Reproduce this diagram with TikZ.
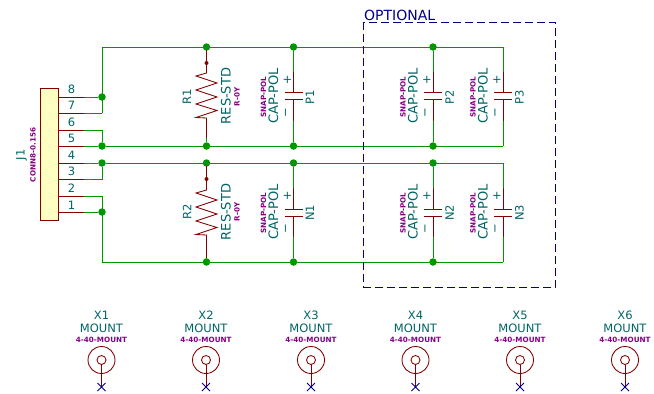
\documentclass[tikz,border=0pt]{standalone}
\usepackage{xcolor}
\usepackage{fontspec}
\setmainfont{DejaVu Sans}
\definecolor{wiregreen}{HTML}{009600}
\definecolor{partred}{HTML}{840000}
\definecolor{nametext}{HTML}{006464}
\definecolor{typetext}{HTML}{840084}
\definecolor{noteblue}{HTML}{000084}
\definecolor{bodyfill}{HTML}{FFFFC2}
\tikzset{
  wire/.style={draw=wiregreen,line width=0.85pt},
  part/.style={draw=partred,line width=0.85pt},
  junction/.style={circle,fill=wiregreen,inner sep=0pt,minimum size=7.5pt},
  pindot/.style={circle,fill=partred,inner sep=0pt,minimum size=4pt},
  ref/.style={text=nametext,inner sep=0pt,font=\fontsize{11.5}{12}\selectfont},
  val/.style={text=nametext,inner sep=0pt,rotate=90,font=\fontsize{13}{14}\selectfont},
  tiny/.style={text=typetext,inner sep=0pt,font=\fontsize{7.2}{8}\selectfont\bfseries},
  hole/.style={draw=partred,circle,line width=0.85pt,inner sep=0pt},
  cross/.style={draw=noteblue,line width=0.85pt},
}
\begin{document}
\begin{tikzpicture}[x=1pt,y=-1pt]
      \useasboundingbox (0,0) rectangle (654,394);
      % connector
      \node[draw=partred,line width=1pt,fill=bodyfill,minimum width=17.5pt,minimum height=132pt,inner sep=0pt] (J) at (49.5,154.5) {};
      \node[ref,rotate=90] (J1) at (21.5,155) {J1};
      \node[tiny,rotate=90] (Jval) at (33,155) {CONN8-0.156};
      \node[ref] (n8) at (71.5,89) {8};
      \node[ref] (n7) at (71.5,105.5) {7};
      \node[ref] (n6) at (71.5,122) {6};
      \node[ref] (n5) at (71.5,138.5) {5};
      \node[ref] (n4) at (71.5,155) {4};
      \node[ref] (n3) at (71.5,171.5) {3};
      \node[ref] (n2) at (71.5,188) {2};
      \node[ref] (n1) at (71.5,205) {1};
      \coordinate (p8) at (58,97);
      \coordinate (p7) at (58,113);
      \coordinate (p6) at (58,130);
      \coordinate (p5) at (58,146);
      \coordinate (p4) at (58,163);
      \coordinate (p3) at (58,179);
      \coordinate (p2) at (58,196);
      \coordinate (p1) at (58,212);
      \coordinate (e8) at (84,97);
      \coordinate (e7) at (84,113);
      \coordinate (e6) at (84,130);
      \coordinate (e5) at (84,146);
      \coordinate (e4) at (84,163);
      \coordinate (e3) at (84,179);
      \coordinate (e2) at (84,196);
      \coordinate (e1) at (84,212);
      % rails
      \coordinate (TL) at (102,47);
      \coordinate (TR) at (503,47);
      \coordinate (MR) at (503,146);
      \coordinate (BL) at (102,262);
      \coordinate (C7) at (102,113);
      \coordinate (C6) at (102,130);
      \coordinate (C3) at (102,179);
      \coordinate (C2) at (102,196);
      \coordinate (N3t) at (503,163);
      \coordinate (N3b) at (503,262);
      \node[junction] (A8) at (102,97) {};
      \node[junction] (A5) at (102,146) {};
      \node[junction] (A4) at (102,163) {};
      \node[junction] (A1) at (102,212) {};
      \node[junction] (R1t) at (206.5,47) {};
      \node[junction] (R1b) at (206.5,146) {};
      \node[junction] (R2t) at (206.5,163) {};
      \node[junction] (R2b) at (206.5,262) {};
      \node[junction] (P1t) at (293.5,47) {};
      \node[junction] (P1b) at (293.5,146) {};
      \node[junction] (N1t) at (293.5,163) {};
      \node[junction] (N1b) at (293.5,262) {};
      \node[junction] (P2t) at (433,47) {};
      \node[junction] (P2b) at (433,146) {};
      \node[junction] (N2t) at (433,163) {};
      \node[junction] (N2b) at (433,262) {};
      \draw[wire] (C7) -- (TL) -- (TR);
      \draw[wire] (MR) -- (A5) -- (C6) -- (e6);
      \draw[wire] (A4) -- (N3t);
      \draw[wire] (N3b) -- (BL) -- (C2) -- (e2);
      \draw[wire] (A4) -- (C3) -- (e3);
      \draw[wire] (C7) -- (e7);
      \draw[wire] (A8) -- (e8);
      \draw[wire] (A5) -- (e5);
      \draw[wire] (A4) -- (e4);
      \draw[wire] (A1) -- (e1);
      \draw[part] (p8) -- (e8);
      \draw[part] (p7) -- (e7);
      \draw[part] (p6) -- (e6);
      \draw[part] (p5) -- (e5);
      \draw[part] (p4) -- (e4);
      \draw[part] (p3) -- (e3);
      \draw[part] (p2) -- (e2);
      \draw[part] (p1) -- (e1);
      % resistors
      \coordinate (R1a) at (206.5,50);
      \coordinate (R1c) at (206.5,138);
      \coordinate (R2a) at (206.5,166);
      \coordinate (R2c) at (206.5,258);
      \node[pindot] (R1d) at (206.5,63) {};
      \node[pindot] (R2d) at (206.5,179) {};
      \draw[wire] (R1t) -- (R1a);
      \draw[wire] (R1c) -- (R1b);
      \draw[wire] (R2t) -- (R2a);
      \draw[wire] (R2c) -- (R2b);
      \draw[part] (R1a) -- (R1d) -- (206.5,73) -- (196,76) -- (217,83) -- (196,90) -- (217,97) -- (196,104) -- (217,110.5) -- (196,117.5) -- (206.5,118) -- (R1c);
      \draw[part] (R2a) -- (R2d) -- (206.5,190) -- (196,193) -- (217,200) -- (196,207) -- (217,214) -- (196,221) -- (217,227.5) -- (196,234.5) -- (206.5,235) -- (R2c);
      \node[ref,rotate=90] (R1) at (187,97) {R1};
      \node[val] (R1v) at (226,96) {RES-STD};
      \node[tiny,rotate=90] (R1f) at (237,97) {R-0Y};
      \node[ref,rotate=90] (R2) at (187,212) {R2};
      \node[val] (R2v) at (226,212) {RES-STD};
      \node[tiny,rotate=90] (R2f) at (237,212) {R-0Y};
      % capacitors
      \coordinate (P1a) at (293.5,71.5);
      \coordinate (P1c) at (293.5,121);
      \coordinate (N1a) at (293.5,188);
      \coordinate (N1c) at (293.5,237);
      \coordinate (P2a) at (433,71.5);
      \coordinate (P2c) at (433,121);
      \coordinate (N2a) at (433,188);
      \coordinate (N2c) at (433,237);
      \coordinate (P3a) at (503,71.5);
      \coordinate (P3c) at (503,121);
      \coordinate (N3a) at (503,188);
      \coordinate (N3c) at (503,237);
      \draw[wire] (P1t) -- (P1a);
      \draw[wire] (P1c) -- (P1b);
      \draw[wire] (N1t) -- (N1a);
      \draw[wire] (N1c) -- (N1b);
      \draw[wire] (P2t) -- (P2a);
      \draw[wire] (P2c) -- (P2b);
      \draw[wire] (N2t) -- (N2a);
      \draw[wire] (N2c) -- (N2b);
      \draw[wire] (TR) -- (P3a);
      \draw[wire] (P3c) -- (MR);
      \draw[wire] (N3t) -- (N3a);
      \draw[wire] (N3c) -- (N3b);
      \draw[part] (P1a) -- ++(0,21) ++(-9,0) -- ++(18,0) ++(-18,7) -- ++(18,0) ++(-9,0) -- (P1c);
      \draw[part] (N1a) -- ++(0,21.5) ++(-9,0) -- ++(18,0) ++(-18,7) -- ++(18,0) ++(-9,0) -- (N1c);
      \draw[part] (P2a) -- ++(0,21) ++(-9,0) -- ++(18,0) ++(-18,7) -- ++(18,0) ++(-9,0) -- (P2c);
      \draw[part] (N2a) -- ++(0,21.5) ++(-9,0) -- ++(18,0) ++(-18,7) -- ++(18,0) ++(-9,0) -- (N2c);
      \draw[part] (P3a) -- ++(0,21) ++(-9,0) -- ++(18,0) ++(-18,7) -- ++(18,0) ++(-9,0) -- (P3c);
      \draw[part] (N3a) -- ++(0,21.5) ++(-9,0) -- ++(18,0) ++(-18,7) -- ++(18,0) ++(-9,0) -- (N3c);
      % capacitor labels
      \node[ref,rotate=90] (P1l) at (310,97) {P1};
      \node[ref,rotate=90] (N1l) at (310,213) {N1};
      \node[ref,rotate=90] (P2l) at (449.5,97) {P2};
      \node[ref,rotate=90] (N2l) at (449.5,213) {N2};
      \node[ref,rotate=90] (P3l) at (519.5,97) {P3};
      \node[ref,rotate=90] (N3l) at (519.5,213) {N3};
      \node[val] (P1v) at (273.5,96) {CAP-POL};
      \node[val] (N1v) at (273.5,212) {CAP-POL};
      \node[val] (P2v) at (413,96) {CAP-POL};
      \node[val] (N2v) at (413,212) {CAP-POL};
      \node[val] (P3v) at (483,96) {CAP-POL};
      \node[val] (N3v) at (483,212) {CAP-POL};
      \node[tiny,rotate=90] (P1f) at (263.5,97) {SNAP-POL};
      \node[tiny,rotate=90] (N1f) at (263.5,213) {SNAP-POL};
      \node[tiny,rotate=90] (P2f) at (403,97) {SNAP-POL};
      \node[tiny,rotate=90] (N2f) at (403,213) {SNAP-POL};
      \node[tiny,rotate=90] (P3f) at (473,97) {SNAP-POL};
      \node[tiny,rotate=90] (N3f) at (473,213) {SNAP-POL};
      \node[ref] (P1p) at (287.5,80) {+};
      \node[ref] (N1p) at (287.5,196) {+};
      \node[ref] (P2p) at (427,80) {+};
      \node[ref] (N2p) at (427,196) {+};
      \node[ref] (P3p) at (497,80) {+};
      \node[ref] (N3p) at (497,196) {+};
      \node[ref,rotate=90] (P1m) at (287,113) {−};
      \node[ref,rotate=90] (N1m) at (287,229) {−};
      \node[ref,rotate=90] (P2m) at (426.5,113) {−};
      \node[ref,rotate=90] (N2m) at (426.5,229) {−};
      \node[ref,rotate=90] (P3m) at (496.5,113) {−};
      \node[ref,rotate=90] (N3m) at (496.5,229) {−};
      % optional box
      \draw[noteblue,line width=0.85pt,dash pattern=on 8pt off 4pt] (363.5,22) rectangle (555,287);
      \node[ref,text=noteblue,anchor=west,font=\fontsize{14}{15}\selectfont] (opt) at (364,15) {OPTIONAL};
      % mounts
      \node[hole,minimum size=27pt] (H1) at (101.5,360) {};
      \node[hole,minimum size=27pt] (H2) at (206,360) {};
      \node[hole,minimum size=27pt] (H3) at (311,360) {};
      \node[hole,minimum size=27pt] (H4) at (415.5,360) {};
      \node[hole,minimum size=27pt] (H5) at (520,360) {};
      \node[hole,minimum size=27pt] (H6) at (625,360) {};
      \node[hole,minimum size=9pt] (I1) at (H1) {};
      \node[hole,minimum size=9pt] (I2) at (H2) {};
      \node[hole,minimum size=9pt] (I3) at (H3) {};
      \node[hole,minimum size=9pt] (I4) at (H4) {};
      \node[hole,minimum size=9pt] (I5) at (H5) {};
      \node[hole,minimum size=9pt] (I6) at (H6) {};
      \coordinate (Y1) at (101.5,387);
      \coordinate (Y2) at (206,387);
      \coordinate (Y3) at (311,387);
      \coordinate (Y4) at (415.5,387);
      \coordinate (Y5) at (520,387);
      \coordinate (Y6) at (625,387);
      \draw[part] (I1) -- (Y1);
      \draw[part] (I2) -- (Y2);
      \draw[part] (I3) -- (Y3);
      \draw[part] (I4) -- (Y4);
      \draw[part] (I5) -- (Y5);
      \draw[part] (I6) -- (Y6);
      \draw[cross] (97.5,383) -- (105.5,391) (97.5,391) -- (105.5,383);
      \draw[cross] (202,383) -- (210,391) (202,391) -- (210,383);
      \draw[cross] (307,383) -- (315,391) (307,391) -- (315,383);
      \draw[cross] (411.5,383) -- (419.5,391) (411.5,391) -- (419.5,383);
      \draw[cross] (516,383) -- (524,391) (516,391) -- (524,383);
      \draw[cross] (621,383) -- (629,391) (621,391) -- (629,383);
      \node[ref] (X1) at (101.5,315) {X1};
      \node[ref] (X2) at (206,315) {X2};
      \node[ref] (X3) at (311,315) {X3};
      \node[ref] (X4) at (415.5,315) {X4};
      \node[ref] (X5) at (520,315) {X5};
      \node[ref] (X6) at (625,315) {X6};
      \node[ref] (M1) at (101.5,328) {MOUNT};
      \node[ref] (M2) at (206,328) {MOUNT};
      \node[ref] (M3) at (311,328) {MOUNT};
      \node[ref] (M4) at (415.5,328) {MOUNT};
      \node[ref] (M5) at (520,328) {MOUNT};
      \node[ref] (M6) at (625,328) {MOUNT};
      \node[tiny] (F1) at (101.5,340) {4-40-MOUNT};
      \node[tiny] (F2) at (206,340) {4-40-MOUNT};
      \node[tiny] (F3) at (311,340) {4-40-MOUNT};
      \node[tiny] (F4) at (415.5,340) {4-40-MOUNT};
      \node[tiny] (F5) at (520,340) {4-40-MOUNT};
      \node[tiny] (F6) at (625,340) {4-40-MOUNT};
    \end{tikzpicture}
\end{document}
